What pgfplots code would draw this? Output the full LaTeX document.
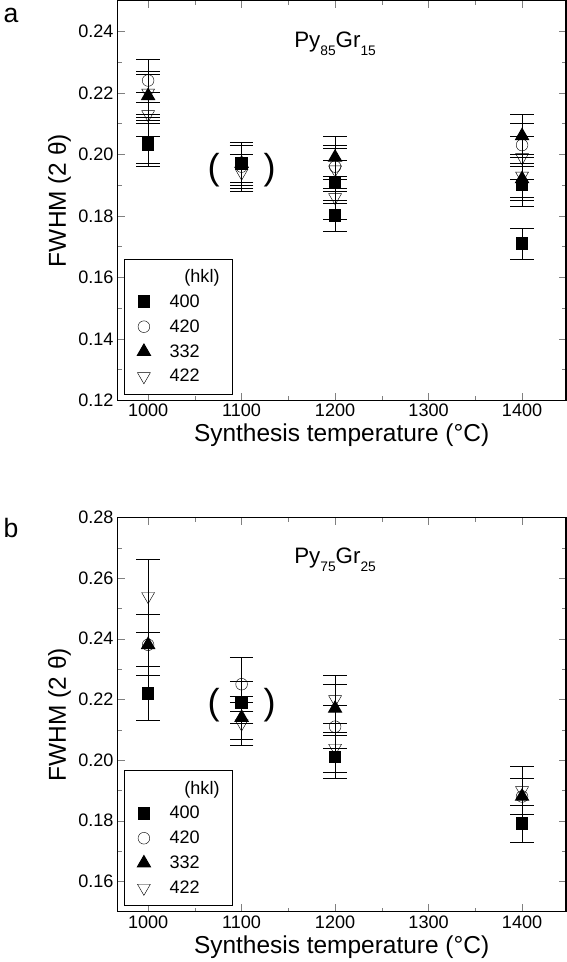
\documentclass[border=0pt]{standalone}
\usepackage{pgfplots}
\pgfplotsset{compat=1.18}
\usepackage{fontspec}
\setmainfont{Liberation Sans}
\newcommand{\sub}[1]{\raisebox{-0.35em}{\fontsize{13}{13}\selectfont #1}}
\begin{document}
\begin{tikzpicture}
\pgfplotsset{
 eb/.style={only marks, black, mark size=5.5pt, mark options={fill=black, line width=1pt},
    error bars/y dir=both, error bars/y explicit, error bars/error bar style={black},
    error bars/error mark options={rotate=90,mark size=11pt,black,line width=0.6pt}},
 base/.style={scale only axis, width=422pt, height=376pt, xmin=967, xmax=1447,
  xtick={1000,1100,1200,1300,1400}, minor x tick num=1, minor y tick num=1,
  tick align=inside, xtick pos=both, ytick pos=both, axis line style={line width=1pt},
  /pgf/number format/assume math mode=true,
  yticklabel style={/pgf/number format/.cd,fixed,fixed zerofill,precision=2},
  xticklabel style={/pgf/number format/.cd,1000 sep={}},
  tick label style={font=\fontsize{17}{17}\selectfont},
  label style={font=\fontsize{23}{23}\selectfont},
  xlabel={Synthesis temperature (\textdegree C)}, ylabel={FWHM (2 θ)},
  major tick length=7pt, minor tick length=4pt,
  legend style={at={(0.015,0.015)},anchor=south west, font=\fontsize{17}{17}\selectfont, draw=black, row sep=6pt, inner xsep=10pt, inner ysep=8pt},
  legend cell align=left}
}
\begin{axis}[base, name=A, ymin=0.12, ymax=0.25, ytick={0.12,0.14,...,0.241}]
\addlegendimage{empty legend}\addlegendentry{\hspace{30pt}(hkl)}
\addplot[eb, mark=square*] table[y error=e]{
x y e
1000 0.203 0.007
1000 0.204 0.007
1100 0.197 0.007
1200 0.180 0.005
1200 0.191 0.007
1400 0.171 0.005
1400 0.190 0.007
};\addlegendentry{\hspace{16pt}400}
\addplot[eb, mark=o, mark options={fill=white}] table[y error=e]{
x y e
1000 0.224 0.007
1100 0.196 0.007
1200 0.196 0.007
1400 0.203 0.007
};\addlegendentry{\hspace{16pt}420}
\addplot[eb, mark=triangle*, mark size=7pt] table[y error=e]{
x y e
1000 0.219 0.007
1100 0.197 0.006
1200 0.199 0.007
1400 0.206 0.007
1400 0.192 0.007
};\addlegendentry{\hspace{16pt}332}
\addplot[eb, mark=triangle, mark size=7pt, mark options={rotate=180,fill=white}] table[y error=e]{
x y e
1000 0.220 0.007
1000 0.213 0.007
1100 0.194 0.006
1200 0.195 0.007
1200 0.186 0.007
1400 0.199 0.007
1400 0.193 0.007
};\addlegendentry{\hspace{16pt}422}
\node[font=\fontsize{21}{21}\selectfont] at (axis cs:1200,0.236) {Py\sub{85}Gr\sub{15}};
\node[font=\fontsize{34}{34}\selectfont] at (axis cs:1070,0.195) {(};
\node[font=\fontsize{34}{34}\selectfont] at (axis cs:1130,0.195) {)};
\end{axis}
\node[font=\fontsize{25}{25}\selectfont] at ([xshift=-100pt,yshift=-14pt]A.north west) {a};
\begin{axis}[base, name=B, at={(A.south west)}, anchor=north west, yshift=-110pt, height=371pt,
  ymin=0.15, ymax=0.28, ytick={0.16,0.18,...,0.281}]
\addlegendimage{empty legend}\addlegendentry{\hspace{30pt}(hkl)}
\addplot[eb, mark=square*] table[y error=e]{
x y e
1000 0.222 0.009
1100 0.219 0.007
1200 0.201 0.007
1400 0.179 0.006
};\addlegendentry{\hspace{16pt}400}
\addplot[eb, mark=o, mark options={fill=white}] table[y error=e]{
x y e
1000 0.238 0.010
1100 0.225 0.009
1200 0.211 0.007
1400 0.188 0.006
};\addlegendentry{\hspace{16pt}420}
\addplot[eb, mark=triangle*, mark size=7pt] table[y error=e]{
x y e
1000 0.238 0.010
1100 0.214 0.007
1200 0.217 0.008
1400 0.188 0.006
};\addlegendentry{\hspace{16pt}332}
\addplot[eb, mark=triangle, mark size=7pt, mark options={rotate=180,fill=white}] table[y error=e]{
x y e
1000 0.254 0.012
1100 0.212 0.007
1200 0.220 0.008
1200 0.204 0.008
1400 0.190 0.008
};\addlegendentry{\hspace{16pt}422}
\node[font=\fontsize{21}{21}\selectfont] at (axis cs:1200,0.266) {Py\sub{75}Gr\sub{25}};
\node[font=\fontsize{34}{34}\selectfont] at (axis cs:1070,0.218) {(};
\node[font=\fontsize{34}{34}\selectfont] at (axis cs:1130,0.218) {)};
\end{axis}
\node[font=\fontsize{25}{25}\selectfont] at ([xshift=-100pt,yshift=-10pt]B.north west) {b};
\end{tikzpicture}
\end{document}
